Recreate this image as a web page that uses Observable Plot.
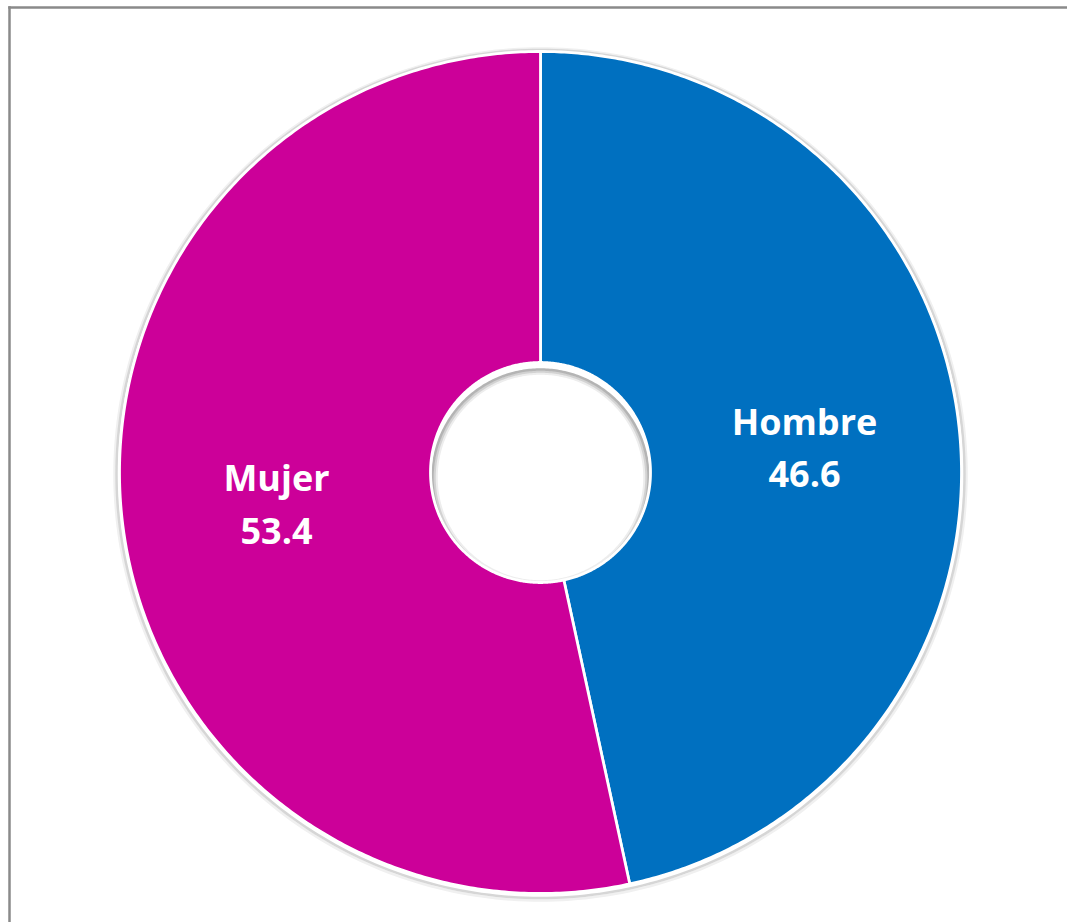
<!DOCTYPE html>
<html><head><meta charset="utf-8">
<script src="https://cdn.jsdelivr.net/npm/d3@7"></script>
<script src="https://cdn.jsdelivr.net/npm/@observablehq/plot@0.6"></script>
<style>body{margin:0;background:#fff;overflow:hidden}</style>
</head><body><div id="chart"></div>
<script>
// ---- data ----
const categories = ["Hombre", "Mujer"];
const values = [46.6, 53.4];
const colors = ["#0070C0", "#CC0099"];

// ---- geometry helpers (built from the data through d3.pie) ----
const W = 1067, H = 922;
const R_OUT = 421, R_IN = 110, N = 360;
const arcs = d3.pie().sort(null).value(d => d.value)(
  categories.map((c, i) => ({category: c, value: values[i]}))
);
const pt = (a, r, dy = 0) => ({x: r * Math.sin(a), y: r * Math.cos(a) + dy});

const slices = arcs.flatMap(arc => {
  const pts = [];
  for (let k = 0; k <= N; k++) {
    const a = arc.startAngle + (arc.endAngle - arc.startAngle) * k / N;
    pts.push({...pt(a, R_OUT), category: arc.data.category});
  }
  for (let k = N; k >= 0; k--) {
    const a = arc.startAngle + (arc.endAngle - arc.startAngle) * k / N;
    pts.push({...pt(a, R_IN), category: arc.data.category});
  }
  return pts;
});

// soft shadow rings (outer halo and inner hole shadow)
const ringSpecs = [
  {id: "o2", r: R_OUT + 5, dy: -2, stroke: "#f0f0f0", w: 2.5},
  {id: "o1", r: R_OUT + 3, dy: -1.5, stroke: "#d6d6d6", w: 2.5},
  {id: "i3", r: R_IN - 6, dy: -5, stroke: "#ededed", w: 2.5},
  {id: "i2", r: R_IN - 4, dy: -5, stroke: "#d2d2d2", w: 2.5},
  {id: "i1", r: R_IN - 2, dy: -5, stroke: "#b4b4b4", w: 2.5}
];
const rings = ringSpecs.flatMap(s =>
  d3.range(0, N + 1).map(k => ({...pt(2 * Math.PI * k / N, s.r, s.dy), id: s.id}))
);

const labels = arcs.map(arc => {
  const mid = (arc.startAngle + arc.endAngle) / 2;
  const p = pt(mid, (R_OUT + R_IN) / 2);
  return {...p, text: `${arc.data.category}\n${arc.data.value.toFixed(1)}`};
});

const plot = Plot.plot({
  width: W, height: H,
  marginLeft: 9, marginTop: 7, marginRight: 0, marginBottom: 0,
  x: {domain: [-531, 527], axis: null},
  y: {domain: [-450, 465], axis: null},
  color: {domain: categories, range: colors},
  marks: [
    Plot.frame({anchor: "left", stroke: "#8a8a8a", strokeWidth: 2.5}),
    Plot.frame({anchor: "top", stroke: "#8a8a8a", strokeWidth: 2.5}),
    ...ringSpecs.map(s => Plot.line(rings.filter(d => d.id === s.id), {x: "x", y: "y", stroke: s.stroke, strokeWidth: s.w, curve: "linear-closed"})),
    Plot.line(slices, {x: "x", y: "y", z: "category", fill: "category", stroke: "white", strokeWidth: 2.8, curve: "linear-closed"}),
    Plot.text(labels, {x: "x", y: "y", text: "text", fill: "white", fontSize: 36, fontWeight: "bold", fontFamily: "Open Sans", lineHeight: 1.45})
  ]
});

document.getElementById("chart").appendChild(plot);
</script>
</body></html>
